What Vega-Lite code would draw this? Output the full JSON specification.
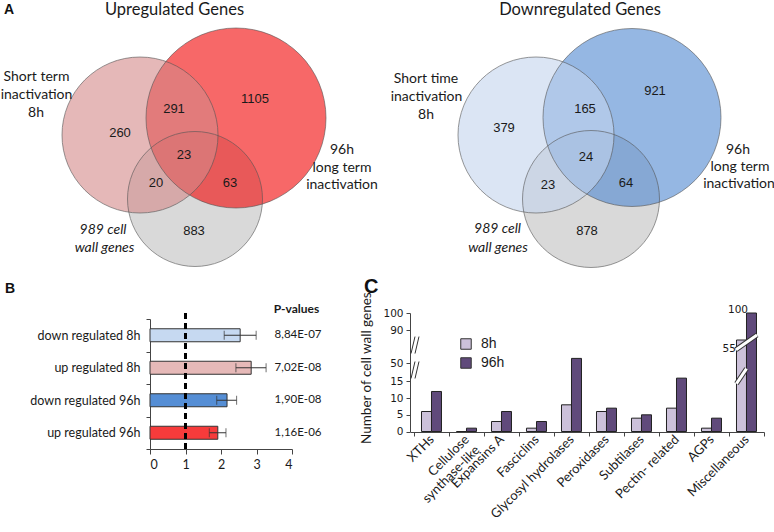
{
  "$schema": "https://vega.github.io/schema/vega-lite/v6.json",
  "padding": 0,
  "background": "white",
  "bounds": "flush",
  "spacing": 43,
  "config": {"view": {"stroke": null}, "axis": {"grid": false}},
  "resolve": {"scale": {"color": "independent", "size": "independent"}, "legend": {"color": "independent"}},
  "datasets": {
    "circles": [
      {"set": "cw", "x": 194, "y": 199, "r": 67.5},
      {"set": "up96", "x": 235, "y": 118, "r": 90},
      {"set": "up8", "x": 139, "y": 135, "r": 78},
      {"set": "cw", "x": 590, "y": 199, "r": 68.5},
      {"set": "dn96", "x": 631, "y": 117.5, "r": 89},
      {"set": "dn8", "x": 535, "y": 135, "r": 78}
    ],
    "counts": [
      {"x": 119, "y": 133, "label": "260"},
      {"x": 173, "y": 109, "label": "291"},
      {"x": 254, "y": 99, "label": "1105"},
      {"x": 183, "y": 155, "label": "23"},
      {"x": 155, "y": 183, "label": "20"},
      {"x": 229, "y": 183, "label": "63"},
      {"x": 193, "y": 231, "label": "883"},
      {"x": 503, "y": 128, "label": "379"},
      {"x": 584, "y": 109, "label": "165"},
      {"x": 654, "y": 91, "label": "921"},
      {"x": 585, "y": 157, "label": "24"},
      {"x": 547, "y": 185, "label": "23"},
      {"x": 625, "y": 183, "label": "64"},
      {"x": 586, "y": 231, "label": "878"}
    ],
    "setlabels": [
      {"x": 35.5, "y": 77, "label": "Short term"},
      {"x": 35.5, "y": 95, "label": "inactivation"},
      {"x": 35, "y": 113, "label": "8h"},
      {"x": 341, "y": 150, "label": "96h"},
      {"x": 341, "y": 168, "label": "long term"},
      {"x": 341, "y": 185, "label": "inactivation"},
      {"x": 425, "y": 79, "label": "Short time"},
      {"x": 425.5, "y": 96.5, "label": "inactivation"},
      {"x": 425, "y": 115, "label": "8h"},
      {"x": 737, "y": 150, "label": "96h"},
      {"x": 739, "y": 167, "label": "long term"},
      {"x": 738, "y": 184, "label": "inactivation"}
    ],
    "cwlabels": [
      {"x": 102, "y": 230, "label": "989 cell"},
      {"x": 103.5, "y": 248, "label": "wall genes"},
      {"x": 496.5, "y": 229, "label": "989 cell"},
      {"x": 497, "y": 248, "label": "wall genes"}
    ],
    "titles": [
      {"x": 173.5, "y": 15, "label": "Upregulated Genes"},
      {"x": 579, "y": 15, "label": "Downregulated Genes"}
    ],
    "headers": [
      {"x": 295.5, "y": 309, "label": "P-values"}
    ],
    "ytitle": [
      {"x": 366, "y": 444, "label": "Number of cell wall genes"}
    ],
    "letters": [
      {"x": 3, "y": 13.5, "label": "A"},
      {"x": 4, "y": 293, "label": "B"},
      {"x": 363, "y": 293, "label": "C"}
    ],
    "enrich": [
      {"group": "down regulated 8h", "ratio": 2.54, "lo": 2.09, "hi": 2.99, "pvalue": "8,84E-07"},
      {"group": "up regulated 8h", "ratio": 2.85, "lo": 2.42, "hi": 3.27, "pvalue": "7,02E-08"},
      {"group": "down regulated 96h", "ratio": 2.17, "lo": 1.88, "hi": 2.44, "pvalue": "1,90E-08"},
      {"group": "up regulated 96h", "ratio": 1.91, "lo": 1.67, "hi": 2.14, "pvalue": "1,16E-06"}
    ],
    "cellwall": [
      {"category": "XTHs", "time": "8h", "count": 6},
      {"category": "XTHs", "time": "96h", "count": 12},
      {"category": "Cellulose synthase-like", "time": "8h", "count": 0},
      {"category": "Cellulose synthase-like", "time": "96h", "count": 1},
      {"category": "Expansins A", "time": "8h", "count": 3},
      {"category": "Expansins A", "time": "96h", "count": 6},
      {"category": "Fasciclins", "time": "8h", "count": 1},
      {"category": "Fasciclins", "time": "96h", "count": 3},
      {"category": "Glycosyl hydrolases", "time": "8h", "count": 8},
      {"category": "Glycosyl hydrolases", "time": "96h", "count": 51},
      {"category": "Peroxidases", "time": "8h", "count": 6},
      {"category": "Peroxidases", "time": "96h", "count": 7},
      {"category": "Subtilases", "time": "8h", "count": 4},
      {"category": "Subtilases", "time": "96h", "count": 5},
      {"category": "Pectin- related", "time": "8h", "count": 7},
      {"category": "Pectin- related", "time": "96h", "count": 16},
      {"category": "AGPs", "time": "8h", "count": 1},
      {"category": "AGPs", "time": "96h", "count": 4},
      {"category": "Miscellaneous", "time": "8h", "count": 55},
      {"category": "Miscellaneous", "time": "96h", "count": 100}
    ],
    "barbreaks": [
      {"category": "Miscellaneous", "time": "8h", "v": 54.5, "which": "upper"},
      {"category": "Miscellaneous", "time": "8h", "v": 16.6, "which": "lower"}
    ],
    "axisbreaks": [
      {"v": 30.4},
      {"v": 53.9}
    ],
    "barlabels": [
      {"category": "Miscellaneous", "v": 100, "label": "100"},
      {"category": "Miscellaneous", "v": 55, "label": "55"}
    ]
  },
  "vconcat": [
    {
      "width": 774,
      "height": 270,
      "encoding": {
        "x": {"field": "x", "type": "quantitative", "scale": {"domain": [0, 774], "range": [0, 774], "nice": false, "zero": false}, "axis": null},
        "y": {"field": "y", "type": "quantitative", "scale": {"domain": [0, 270], "range": [0, 270], "nice": false, "zero": false}, "axis": null}
      },
      "layer": [
        {
          "data": {"name": "circles"},
          "mark": {"type": "point", "shape": "circle", "filled": true, "fillOpacity": 0.6, "strokeOpacity": 0},
          "encoding": {
            "size": {"field": "r", "type": "quantitative", "scale": {"type": "pow", "exponent": 2, "domain": [0, 100], "range": [0, 40000], "zero": true, "nice": false}, "legend": null},
            "color": {"field": "set", "type": "nominal", "scale": {"domain": ["cw", "up96", "up8", "dn96", "dn8"], "range": ["#c0c0c0", "#f20303", "#d48989", "#4e87d0", "#c3d4ed"]}, "legend": null}
          }
        },
        {
          "data": {"name": "circles"},
          "mark": {"type": "point", "shape": "circle", "filled": false, "stroke": "#555555", "strokeWidth": 1, "strokeOpacity": 0.85},
          "encoding": {
            "size": {"field": "r", "type": "quantitative", "legend": null}
          }
        },
        {
          "data": {"name": "counts"},
          "mark": {"type": "text", "font": "Liberation Sans", "fontSize": 13, "color": "#1a1a1a", "align": "center", "baseline": "middle"},
          "encoding": {"text": {"field": "label"}}
        },
        {
          "data": {"name": "setlabels"},
          "mark": {"type": "text", "font": "Lato", "fontSize": 14, "color": "#1a1a1a", "align": "center", "baseline": "middle"},
          "encoding": {"text": {"field": "label"}}
        },
        {
          "data": {"name": "cwlabels"},
          "mark": {"type": "text", "font": "Lato", "fontStyle": "italic", "fontSize": 14, "color": "#1a1a1a", "align": "center", "baseline": "middle"},
          "encoding": {"text": {"field": "label"}}
        },
        {
          "data": {"name": "titles"},
          "mark": {"type": "text", "font": "Lato", "fontSize": 16.5, "color": "#1a1a1a", "align": "center", "baseline": "alphabetic"},
          "encoding": {"text": {"field": "label"}}
        },
        {
          "data": {"name": "headers"},
          "mark": {"type": "text", "font": "Lato", "fontWeight": "bold", "fontSize": 12, "color": "#1a1a1a", "align": "center", "baseline": "middle"},
          "encoding": {"text": {"field": "label"}}
        },
        {
          "data": {"name": "ytitle"},
          "mark": {"type": "text", "font": "Lato", "fontSize": 13.5, "color": "#1a1a1a", "align": "left", "baseline": "middle", "angle": 270},
          "encoding": {"text": {"field": "label"}}
        },
        {
          "data": {"name": "letters"},
          "transform": [{"filter": "datum.label != 'C'"}],
          "mark": {"type": "text", "font": "Liberation Sans", "fontWeight": "bold", "fontSize": 14, "color": "#111111", "align": "left", "baseline": "alphabetic"},
          "encoding": {"text": {"field": "label"}}
        },
        {
          "data": {"name": "letters"},
          "transform": [{"filter": "datum.label == 'C'"}],
          "mark": {"type": "text", "font": "Liberation Sans", "fontWeight": "bold", "fontSize": 20, "color": "#111111", "align": "left", "baseline": "alphabetic"},
          "encoding": {"text": {"field": "label"}}
        }
      ]
    },
    {
      "hconcat": [
        {
          "width": 291,
          "height": 136,
          "data": {"name": "enrich"},
          "layer": [
            {
              "mark": {"type": "bar", "height": {"band": 0.4}, "stroke": "#333333", "strokeWidth": 1},
              "encoding": {
                "y": {"field": "group", "type": "nominal", "sort": null,
                  "scale": {"range": [6, 136], "paddingInner": 0, "paddingOuter": 0},
                  "axis": {"title": null, "orient": "left", "offset": -149, "tickBand": "extent", "tickSize": 4, "labelFont": "Lato", "labelFontSize": 12.5, "labelColor": "#1a1a1a", "labelPadding": 6, "domainColor": "#444444", "tickColor": "#444444"}},
                "x": {"field": "ratio", "type": "quantitative",
                  "scale": {"domain": [0, 4], "range": [149, 291], "nice": false, "zero": true},
                  "axis": {"title": null, "values": [0, 1, 2, 3, 4], "format": "d", "tickSize": 5, "labelFont": "Lato", "labelFontSize": 12.5, "labelColor": "#1a1a1a", "labelPadding": 4, "domainColor": "#444444", "tickColor": "#444444"}},
                "color": {"field": "group", "type": "nominal", "sort": null,
                  "scale": {"domain": ["down regulated 8h", "up regulated 8h", "down regulated 96h", "up regulated 96h"], "range": ["#c6d9f1", "#e6b9b8", "#558ed5", "#f63b3b"]}, "legend": null}
              }
            },
            {
              "mark": {"type": "rule", "color": "#333333", "strokeWidth": 1},
              "encoding": {
                "y": {"field": "group", "type": "nominal", "sort": null},
                "x": {"field": "lo", "type": "quantitative"},
                "x2": {"field": "hi"}
              }
            },
            {
              "mark": {"type": "tick", "color": "#333333", "thickness": 1, "size": 9},
              "encoding": {
                "y": {"field": "group", "type": "nominal", "sort": null},
                "x": {"field": "lo", "type": "quantitative"}
              }
            },
            {
              "mark": {"type": "tick", "color": "#333333", "thickness": 1, "size": 9},
              "encoding": {
                "y": {"field": "group", "type": "nominal", "sort": null},
                "x": {"field": "hi", "type": "quantitative"}
              }
            },
            {
              "mark": {"type": "rule", "color": "#000000", "strokeWidth": 2.5, "strokeDash": [6, 4]},
              "encoding": {
                "x": {"datum": 1, "type": "quantitative"}
              }
            },
            {
              "mark": {"type": "text", "font": "Lato", "fontSize": 11.5, "color": "#1a1a1a", "align": "center", "baseline": "middle"},
              "encoding": {
                "y": {"field": "group", "type": "nominal", "sort": null},
                "x": {"datum": 4.17, "type": "quantitative"},
                "text": {"field": "pvalue"}
              }
            }
          ]
        },
        {
          "width": 354,
          "height": 119,
          "data": {"name": "cellwall"},
          "layer": [
            {
              "mark": {"type": "bar", "stroke": "#222222", "strokeWidth": 1},
              "encoding": {
                "x": {"field": "category", "type": "nominal", "sort": null,
                  "scale": {"paddingInner": 0, "paddingOuter": 0.057, "align": 1},
                  "axis": {"title": null, "tickBand": "extent", "tickSize": 4, "labelAngle": -45, "labelAlign": "right", "labelBaseline": "middle", "labelFont": "Lato", "labelFontSize": 13, "labelColor": "#1a1a1a", "labelPadding": 1, "domainColor": "#444444", "tickColor": "#444444",
                    "labelExpr": "datum.value == 'Cellulose synthase-like' ? ['Cellulose', 'synthase-like'] : datum.value"}},
                "xOffset": {"field": "time", "type": "nominal", "sort": ["8h", "96h"], "scale": {"paddingInner": 0, "paddingOuter": 0.75}},
                "y": {"field": "count", "type": "quantitative",
                  "scale": {"type": "linear", "domain": [0, 17, 50, 55, 90, 100], "range": [118.5, 61.8, 50, 27, 17, 0], "zero": false, "nice": false},
                  "axis": {"title": null, "values": [0, 5, 10, 15, 50, 90, 100], "tickCount": 50, "labelOverlap": false, "tickSize": 4, "labelFont": "DejaVu Sans", "labelFontSize": 10.5, "labelColor": "#1a1a1a", "labelPadding": 3, "domainColor": "#444444", "tickColor": "#444444"}},
                "color": {"field": "time", "type": "nominal", "sort": ["8h", "96h"],
                  "scale": {"domain": ["8h", "96h"], "range": ["#ccc1da", "#604a7b"]},
                  "legend": {"title": null, "orient": "none", "legendX": 49, "legendY": 24, "symbolType": "square", "symbolSize": 110, "symbolStrokeColor": "#333333", "symbolStrokeWidth": 1, "symbolOpacity": 1, "labelFont": "Liberation Sans", "labelFontSize": 14, "labelColor": "#1a1a1a", "labelOffset": 8, "rowPadding": 3, "padding": 0}}
              }
            },
            {
              "data": {"name": "barbreaks"},
              "transform": [{"filter": "datum.which == 'upper'"}],
              "mark": {"type": "point", "shape": "M-1,0.7L1,-0.7", "filled": false, "stroke": "#333333", "strokeWidth": 5, "size": 441, "opacity": 1},
              "encoding": {
                "x": {"field": "category", "type": "nominal", "sort": null},
                "y": {"field": "v", "type": "quantitative"}
              }
            },
            {
              "data": {"name": "barbreaks"},
              "transform": [{"filter": "datum.which == 'upper'"}],
              "mark": {"type": "point", "shape": "M-1,0.7L1,-0.7", "filled": false, "stroke": "white", "strokeWidth": 3, "size": 441, "opacity": 1},
              "encoding": {
                "x": {"field": "category", "type": "nominal", "sort": null},
                "y": {"field": "v", "type": "quantitative"}
              }
            },
            {
              "data": {"name": "barbreaks"},
              "transform": [{"filter": "datum.which == 'lower'"}],
              "mark": {"type": "point", "shape": "M-0.67,1L0.67,-1", "filled": false, "stroke": "#333333", "strokeWidth": 5, "size": 225, "opacity": 1},
              "encoding": {
                "x": {"field": "category", "type": "nominal", "sort": null},
                "xOffset": {"field": "time", "type": "nominal"},
                "y": {"field": "v", "type": "quantitative"}
              }
            },
            {
              "data": {"name": "barbreaks"},
              "transform": [{"filter": "datum.which == 'lower'"}],
              "mark": {"type": "point", "shape": "M-0.67,1L0.67,-1", "filled": false, "stroke": "white", "strokeWidth": 3, "size": 225, "opacity": 1},
              "encoding": {
                "x": {"field": "category", "type": "nominal", "sort": null},
                "xOffset": {"field": "time", "type": "nominal"},
                "y": {"field": "v", "type": "quantitative"}
              }
            },
            {
              "data": {"name": "axisbreaks"},
              "mark": {"type": "point", "shape": "M-0.47,1L0,-1L0.47,-1L0,1Z", "filled": true, "fill": "white", "strokeOpacity": 0, "size": 289, "opacity": 1},
              "encoding": {
                "x": {"value": 5},
                "y": {"field": "v", "type": "quantitative"}
              }
            },
            {
              "data": {"name": "axisbreaks"},
              "mark": {"type": "point", "shape": "M-0.47,1L0,-1M0,1L0.47,-1", "filled": false, "stroke": "#333333", "strokeWidth": 1, "size": 289, "opacity": 1},
              "encoding": {
                "x": {"value": 5},
                "y": {"field": "v", "type": "quantitative"}
              }
            },
            {
              "data": {"name": "barlabels"},
              "transform": [{"filter": "datum.label == '100'"}],
              "mark": {"type": "text", "font": "DejaVu Sans", "fontSize": 10.5, "color": "#1a1a1a", "align": "right", "baseline": "middle", "dx": 1.5, "dy": -3},
              "encoding": {
                "x": {"field": "category", "type": "nominal", "sort": null},
                "y": {"field": "v", "type": "quantitative"},
                "text": {"field": "label"}
              }
            },
            {
              "data": {"name": "barlabels"},
              "transform": [{"filter": "datum.label == '55'"}],
              "mark": {"type": "text", "font": "DejaVu Sans", "fontSize": 10.5, "color": "#1a1a1a", "align": "right", "baseline": "middle", "dx": -10.5, "dy": 9},
              "encoding": {
                "x": {"field": "category", "type": "nominal", "sort": null},
                "y": {"field": "v", "type": "quantitative"},
                "text": {"field": "label"}
              }
            }
          ]
        }
      ],
      "spacing": 118,
      "bounds": "flush",
      "resolve": {"scale": {"color": "independent", "x": "independent", "y": "independent"}, "legend": {"color": "independent"}}
    }
  ]
}
